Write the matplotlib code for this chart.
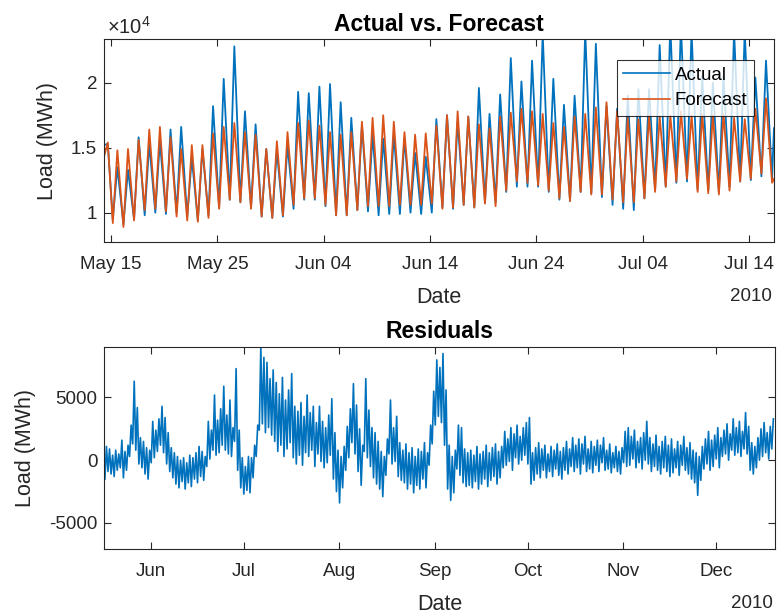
import numpy as np
import pandas as pd
import matplotlib
matplotlib.use('Agg')
import matplotlib.pyplot as plt
import matplotlib.dates as mdates
from matplotlib.ticker import FuncFormatter

plt.rcParams['font.family'] = ['Liberation Sans', 'DejaVu Sans']
plt.rcParams['mathtext.fontset'] = 'custom'
plt.rcParams['mathtext.rm'] = 'Liberation Sans'
plt.rcParams['axes.unicode_minus'] = False

BLUE = '#0072BD'
ORANGE = '#D95319'
DARK = '#262626'

# ---- top panel: daily low (early morning) and high (afternoon), in thousands of MWh
# day 0 = 2010-05-15
act_lead = [15.2, 15.3]
fc_lead = [14.3, 15.4]
act_peak = [13.5, 13.3, 15.8, 15.3, 15.5, 16.4, 16.6, 14.2, 14.9, 18.2,
            20.3, 22.8, 17.8, 16.8, 14.9, 14.8, 15.2, 19.3, 19.2, 19.7,
            19.9, 18.5, 17.3, 16.7, 16.0, 15.7, 16.0, 15.7, 14.6, 14.3,
            17.2, 17.5, 17.0, 17.4, 19.6, 17.6, 19.1, 21.9, 20.1, 21.7,
            23.8, 20.3, 18.3, 19.0, 24.0, 23.0, 18.2, 18.0, 19.0, 19.5,
            19.5, 22.9, 24.5, 24.5, 24.0, 20.5, 20.0, 20.5, 24.0, 24.0,
            20.4, 21.7]
fc_peak = [14.8, 14.9, 15.6, 16.4, 16.6, 15.8, 14.9, 15.2, 15.2, 16.1,
           16.6, 16.9, 16.2, 16.0, 14.9, 15.5, 16.2, 16.9, 17.1, 16.7,
           16.2, 16.0, 16.2, 17.0, 17.3, 17.5, 17.0, 16.2, 16.0, 16.1,
           16.7, 17.5, 17.8, 17.4, 16.8, 16.5, 17.4, 17.7, 18.0, 17.8,
           17.6, 16.9, 16.6, 17.4, 17.6, 18.1, 18.5, 17.8, 17.3, 17.2,
           17.5, 17.4, 17.5, 17.8, 17.5, 17.6, 17.5, 17.6, 17.3, 17.2,
           18.0, 18.8]
act_trough = [9.5, 9.1, 9.5, 9.8, 10.0, 9.9, 10.0, 9.7, 9.4, 9.8,
              10.4, 11.0, 10.8, 10.4, 9.7, 9.6, 9.7, 10.3, 11.0, 11.0,
              10.5, 9.8, 9.8, 10.2, 10.1, 9.8, 9.9, 9.9, 10.0, 9.9,
              10.0, 10.4, 10.3, 10.6, 10.4, 10.8, 10.8, 11.6, 12.0, 12.0,
              12.0, 11.6, 11.0, 10.9, 11.6, 11.5, 11.2, 10.6, 10.3, 10.2,
              11.1, 11.8, 12.0, 12.3, 12.4, 11.8, 11.7, 11.6, 12.0, 12.4,
              12.5, 12.8, 12.6]
fc_trough = [9.2, 8.9, 9.4, 10.2, 10.3, 10.1, 9.7, 9.4, 9.3, 9.6,
             10.3, 11.0, 10.8, 10.3, 9.7, 9.6, 9.8, 10.6, 11.1, 11.1,
             10.6, 9.8, 9.8, 10.2, 10.5, 10.5, 10.5, 10.6, 10.6, 10.6,
             10.7, 10.3, 10.4, 10.6, 10.4, 10.7, 10.5, 11.7, 12.4, 12.3,
             12.1, 11.7, 11.1, 10.9, 11.6, 11.4, 11.4, 11.0, 10.8, 10.8,
             11.1, 11.6, 12.0, 12.4, 12.6, 11.6, 11.5, 11.4, 11.7, 12.4,
             12.6, 13.0, 12.3]
act_end = 16.5
fc_end = 12.6

# ---- bottom panel: daily high / low of residuals (MWh), first day 2010-05-17
res_hi = [1100, 900, 400, 800, 500, 1600, 700, 1200, 2800, 6300,
          4200, 1800, 1500, 1000, 800, 3100, 2400, 3300, 4300, 3400,
          2200, 1000, 600, 300, 0, 200, -200, 400, 200, 600,
          1100, 700, 300, 3100, 2400, 5200, 3200, 4100, 5900, 3600,
          4800, 2600, 7300, 2400, 200, -500, 300, 200, 1200, 2800,
          9000, 8200, 7800, 6500, 7200, 6200, 5300, 6600, 4800, 5600,
          6900, 4300, 3900, 4600, 3500, 5200, 3800, 4300, 3000, 4300,
          3100, 2600, 3600, 4900, 2200, 800, 300, 1100, 2700, 4100,
          6100, 4400, 2500, 1200, 6500, 4000, 2600, 2200, 1500, 700,
          300, 1700, 4800, 2600, 3500, 1400, 800, 1300, 600, 1000,
          300, 900, 700, 1400, 600, 2800, 5500, 8000, 7400, 8500,
          5600, 1200, 300, 800, 2800, 2600, 900, 600, 800, 400,
          1100, 500, 700, 1200, 600, 1000, 1300, 700, 1100, 2300,
          1700, 2600, 2100, 2800, 1900, 2600, 3000, 3400, 600, 1000,
          1400, 900, 1200, 500, 1100, 800, 1300, 700, 1000, 1500,
          900, 1800, 1200, 1700, 1300, 1900, 900, 1500, 1100, 1600,
          1200, 1800, 800, 1300, 600, 1100, 700, 1000, 2300, 2600,
          1900, 2400, 1500, 1800, 2200, 3100, 1800, 1300, 2000, 1100,
          1500, 1900, 1200, 1700, 900, 1500, 1200, 1900, 1000, 1400,
          800, 600, 300, 1100, 1700, 2300, 1600, 2000, 2600, 1800,
          2400, 2900, 2100, 3300, 2600, 3100, 2300, 3800, 2700, 1400,
          1100, 1800, 2500, 3000, 2200, 2700, 3300]
res_lo = [-1500, -900, -1100, -1300, -800, -600, -1400, -800, 300, 1300,
          800, -300, -600, -1100, -1500, -200, 200, 700, 1200, 600,
          -300, -900, -1400, -1900, -2200, -1700, -2300, -1800, -2100, -1500,
          -1800, -1300, -1600, -500, 100, 800, 400, 600, 1200, 800,
          500, 300, 1500, -800, -2200, -2700, -2400, -2600, -1400, 300,
          2400, 2900, 2200, 2600, 2000, 1500, 700, 1200, 300, 900,
          1400, 200, -300, 400, -400, 600, 300, 800, -500, 500,
          -100, -600, -200, 400, -1500, -2500, -3400, -2200, -800, 200,
          1400, 500, -900, -2000, 700, 200, -500, -1400, -1900, -2300,
          -2900, -1200, 500, -300, -100, -1300, -1600, -1800, -2300, -1900,
          -2600, -2000, -2300, -1500, -2200, -400, 1300, 2800, 3500, 3000,
          1200, -2300, -3200, -2600, -700, -1200, -1800, -2100, -2000, -2200,
          -1700, -2300, -1900, -1500, -2100, -1600, -1300, -1900, -1400, -600,
          -400, -100, -800, 200, -300, 0, 400, -300, -1900, -1600,
          -1100, -1400, -800, -1400, -900, -1300, -700, -1200, -1500, -800,
          -1100, -500, -900, -600, -1100, -300, -900, -700, -1000, -400,
          -900, -200, -800, -700, -1000, -600, -900, -1100, -200, -500,
          -400, 100, -600, -200, -700, 0, -300, -900, -500, -800,
          -1100, -600, -900, -1300, -1000, -600, -1200, -400, -800, -1100,
          -1500, -1800, -2800, -1600, -700, -300, -800, -500, 100, -600,
          300, 500, 0, 800, 400, 600, 300, 900, 500, -800,
          -1100, -600, 0, 300, 600, 100, 900]

top_ticks = ['2010-05-15', '2010-05-25', '2010-06-04', '2010-06-14',
             '2010-06-24', '2010-07-04', '2010-07-14']
bottom_ticks = ['2010-06-01', '2010-07-01', '2010-08-01', '2010-09-01',
                '2010-10-01', '2010-11-01', '2010-12-01']


def at(start, days):
    return (pd.Timestamp(start) + pd.to_timedelta(days, unit='D')).to_pydatetime()


# top series: low around 4am, high mid afternoon
t_top = [at('2010-05-15', -0.66), at('2010-05-15', -0.3)]
actual = list(act_lead)
forecast = list(fc_lead)
for d in range(len(act_peak)):
    t_top += [at('2010-05-15', d + 0.17), at('2010-05-15', d + 0.6)]
    actual += [act_trough[d], act_peak[d]]
    forecast += [fc_trough[d], fc_peak[d]]
last = len(act_peak)
t_top += [at('2010-05-15', last + 0.17), at('2010-05-15', last + 0.35)]
actual += [act_trough[last], act_end]
forecast += [fc_trough[last], fc_end]
actual = np.array(actual) * 1000
forecast = np.array(forecast) * 1000

t_res = []
residual = []
for d in range(len(res_hi)):
    t_res += [at('2010-05-17', d + 0.1), at('2010-05-17', d + 0.6)]
    residual += [res_lo[d], res_hi[d]]

fig = plt.figure(figsize=(7.77, 6.15), dpi=100)
ax1 = fig.add_axes([0.1338, 0.606, 0.8623, 0.330])
ax2 = fig.add_axes([0.1342, 0.1068, 0.8627, 0.3295])

ax1.plot(t_top, actual, color=BLUE, lw=1.3, label='Actual')
ax1.plot(t_top, forecast, color=ORANGE, lw=1.3, label='Forecast')
ax1.set_xlim(at('2010-05-15', -0.66), at('2010-05-15', 62.35))
ax1.set_ylim(7720, 23340)
ax1.set_yticks([10000, 15000, 20000])
ax1.yaxis.set_major_formatter(FuncFormatter(lambda v, p: f'{v / 1e4:g}'))
ax1.set_xticks([pd.Timestamp(t).to_pydatetime() for t in top_ticks])
ax1.xaxis.set_major_formatter(mdates.DateFormatter('%b %d'))
ax1.set_title('Actual vs. Forecast', fontsize=16.5, fontweight='bold', pad=6)
ax1.text(0.004, 1.01, r'$\times10^{4}$', transform=ax1.transAxes,
         ha='left', va='bottom', fontsize=14.5, color=DARK)
leg = ax1.legend(loc='upper right', bbox_to_anchor=(0.970, 0.898),
                 borderaxespad=0, fontsize=13.5, frameon=True, fancybox=False,
                 handlelength=2.5, handletextpad=0.25, borderpad=0.35,
                 labelspacing=0.45)
leg.get_frame().set_edgecolor('black')
leg.get_frame().set_linewidth(0.8)
for line in leg.get_lines():
    line.set_linewidth(1.2)

ax2.plot(t_res, residual, color=BLUE, lw=1.2)
ax2.set_xlim(at('2010-06-01', -15.1), at('2010-06-01', 202.0))
ax2.set_ylim(-7100, 9050)
ax2.set_yticks([-5000, 0, 5000])
ax2.set_xticks([pd.Timestamp(t).to_pydatetime() for t in bottom_ticks])
ax2.xaxis.set_major_formatter(mdates.DateFormatter('%b'))
ax2.set_title('Residuals', fontsize=16.5, fontweight='bold', pad=6)

for ax in (ax1, ax2):
    ax.tick_params(direction='in', top=True, right=True, length=5, width=0.8,
                   colors=DARK, labelsize=13.5)
    ax.tick_params(axis='x', pad=10)
    ax.tick_params(axis='y', pad=5)
    for s in ax.spines.values():
        s.set_color(DARK)
        s.set_linewidth(0.8)
    ax.set_xlabel('Date', fontsize=15.5, color=DARK, labelpad=10)
    ax.set_ylabel('Load (MWh)', fontsize=15.5, color=DARK, labelpad=9)
    ax.annotate('2010', xy=(1, 0), xycoords='axes fraction',
                xytext=(-2, -54), textcoords='offset pixels',
                ha='right', va='center', fontsize=13.5, color=DARK)

fig.savefig('out.png', dpi=100)
